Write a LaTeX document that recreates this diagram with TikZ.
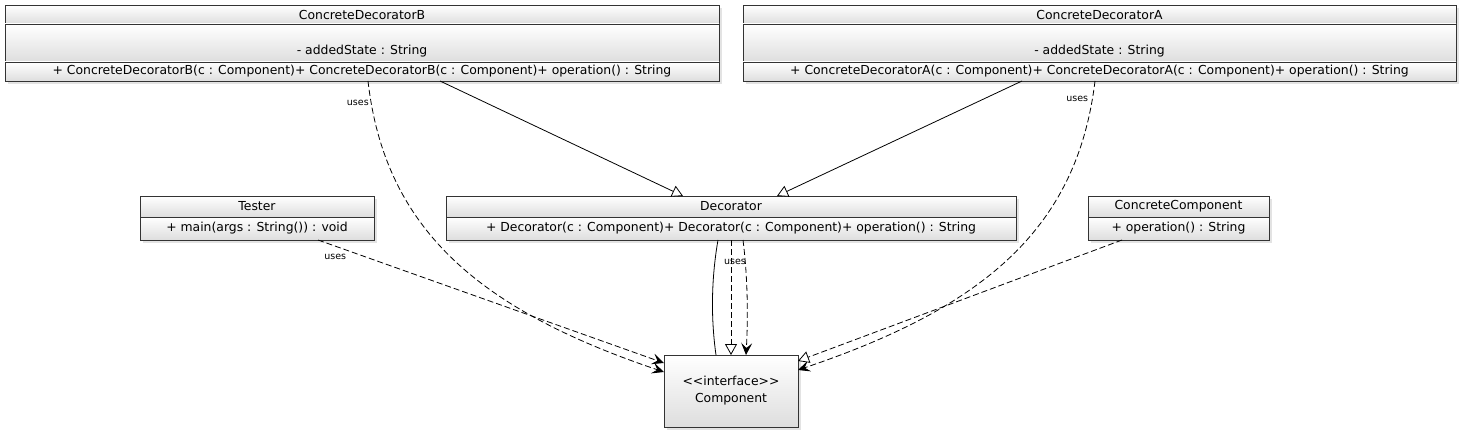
\documentclass[tikz,border=0pt]{standalone}
\usepackage{fontspec}
\newfontfamily\umlfont{DejaVu Sans}
\usetikzlibrary{arrows.meta}
\usetikzlibrary{calc}
\usetikzlibrary{shadows}

\tikzset{
  umlbox/.style={draw=black!80, anchor=north west, inner sep=0pt, outer sep=0pt,
    shading=axis, top color=white, bottom color=black!13,
    font=\umlfont\fontsize{12.4}{17}\selectfont,
    drop shadow={shadow xshift=3pt, shadow yshift=-3pt, fill=black!22}},
  uselabel/.style={font=\umlfont\fontsize{9.5}{10}\selectfont, inner sep=0pt, anchor=east},
  generalize/.style={-{Triangle[length=11pt,width=12pt,fill=white]}},
  realize/.style={dash pattern=on 6pt off 3pt, -{Triangle[length=11pt,width=12pt,fill=white]}},
  uses/.style={dash pattern=on 6pt off 3pt, -{Stealth[length=12pt,width=11pt,inset=5pt]}},
}

\begin{document}
\begin{tikzpicture}[x=1pt,y=-1pt,line width=0.8pt]
\useasboundingbox (0,0) rectangle (1465,433);

% classes on top
\node[umlbox, minimum width=714pt, minimum height=19pt] (cdbT) at (5,5) {ConcreteDecoratorB};
\node[umlbox, minimum width=714pt, minimum height=38pt, align=center] (cdbA) at (cdbT.south west) {\mbox{}\\[9pt]- addedState : String};
\node[umlbox, minimum width=714pt, minimum height=19pt] (cdbO) at (cdbA.south west) {+ ConcreteDecoratorB(c : Component)+ ConcreteDecoratorB(c : Component)+ operation() : String};

\node[umlbox, minimum width=713pt, minimum height=19pt] (cdaT) at (743,5) {ConcreteDecoratorA};
\node[umlbox, minimum width=713pt, minimum height=38pt, align=center] (cdaA) at (cdaT.south west) {\mbox{}\\[9pt]- addedState : String};
\node[umlbox, minimum width=713pt, minimum height=19pt] (cdaO) at (cdaA.south west) {+ ConcreteDecoratorA(c : Component)+ ConcreteDecoratorA(c : Component)+ operation() : String};

% middle row
\node[umlbox, minimum width=234pt, minimum height=21pt] (testT) at (140,196) {Tester};
\node[umlbox, minimum width=234pt, minimum height=23pt] (testO) at (testT.south west) {+ main(args : String()) : void};

\node[umlbox, minimum width=570pt, minimum height=21pt] (decT) at (446,196) {Decorator};
\node[umlbox, minimum width=570pt, minimum height=23pt] (decO) at (decT.south west) {+ Decorator(c : Component)+ Decorator(c : Component)+ operation() : String};

\node[umlbox, minimum width=181pt, minimum height=21pt] (ccT) at (1088,196) {ConcreteComponent};
\node[umlbox, minimum width=181pt, minimum height=23pt] (ccO) at (ccT.south west) {+ operation() : String};

% interface
\node[umlbox, minimum width=134pt, minimum height=72pt, align=center] (comp) at (664,355) {<{}<interface>{}>\\Component};

% connectors
\draw[generalize] ($(cdbO.south)+(78,0)$) -- ($(decT.north)+(-48,0)$);
\draw[generalize] ($(cdaO.south)+(-77.5,0)$) -- ($(decT.north)+(46,0)$);

\draw[uses] ($(cdbO.south)+(6,0)$) .. controls +(17,149) and +(-184,-62) .. ($(comp.west)+(0,-19)$)
  node[uselabel, pos=0.05, xshift=-2pt] {uses};
\draw[uses] ($(cdaO.south)+(-4.5,0)$) .. controls +(-18,149) and +(184,-62) .. ($(comp.east)+(0,-21)$)
  node[uselabel, pos=0.04, xshift=-4pt] {uses};

\draw[uses] ($(testO.south)+(61,0)$) -- ($(comp.west)+(0,-28)$)
  node[uselabel, pos=0.05, anchor=north, yshift=-8pt] {uses};
\draw[realize] ($(ccO.south)+(-56.5,0)$) -- ($(comp.east)+(0,-30)$);

\draw ($(decO.south)+(-13,0)$) .. controls +(-7,40) and +(-5,-35) .. ($(comp.north)+(-15,0)$);
\draw[realize] (decO.south) -- (comp.north);
\draw[uses] ($(decO.south)+(12,0)$) .. controls +(5,40) and +(2,-35) .. ($(comp.north)+(15,0)$)
  node[uselabel, pos=0.18, xshift=1pt] {uses};
\end{tikzpicture}
\end{document}
